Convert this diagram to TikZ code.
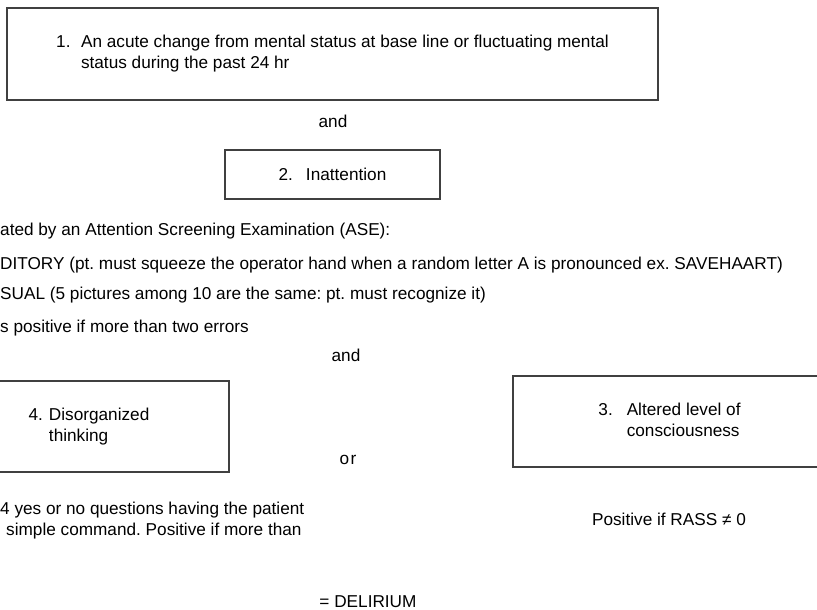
\documentclass[tikz,border=0pt]{standalone}
\usepackage{fontspec}
\setmainfont{Liberation Sans}
\usepackage{tikz}
\usetikzlibrary{positioning}
\frenchspacing

\begin{document}
\begin{tikzpicture}[
    x=1pt, y=-1pt,
    every node/.style={font=\fontsize{17.2}{21}\selectfont, inner sep=0pt},
    box/.style={rectangle, draw=black!75, line width=1.1pt, align=left},
    note/.style={anchor=west, align=left},
    word/.style={anchor=center}
]
    \useasboundingbox (0,0) rectangle (817,610);
    \clip (0,0) rectangle (817,610);

    \node[box, minimum width=651pt, minimum height=92pt] (acute) at (332.5,54) {\begin{tabular}{@{}l@{\hspace{10.5pt}}l@{}}1. & An acute change from mental status at base line or fluctuating mental\\ & status during the past 24 hr\\[1pt]\end{tabular}};
    \node[word] (and1) at (333,121) {and};
    \node[box, minimum width=215pt, minimum height=49pt] (inatt) at (332.5,174.5) {2.\hspace{13pt}Inattention};

    \node[note] (ase) at (0,231) {ated by an Attention Screening Examination (ASE):};
    \node[note] (audit) at (0,265) {DITORY (pt. must squeeze the operator hand when a random letter A is pronounced ex. SAVEHAART)};
    \node[note] (visual) at (0,295) {SUAL (5 pictures among 10 are the same: pt. must recognize it)};
    \node[note] (errors) at (0,328) {s positive if more than two errors};
    \node[word] (and2) at (346,355) {and};

    \node[box, minimum width=280pt, minimum height=91pt] (disorg) at (89,426.5) {\begin{tabular}{@{}l@{\hspace{6pt}}l@{}}4. & Disorganized\\ & thinking\end{tabular}};
    \node[word] (or) at (348,460) {o\kern1.5pt r};
    \node[box, minimum width=313pt, minimum height=91pt] (altered) at (669.5,421.5) {\begin{tabular}{@{}l@{\hspace{14pt}}l@{}}3. & Altered level of\\ & consciousness\end{tabular}};

    \node[note] (yesno) at (0,521) {4 yes or no questions having the patient\\\hspace*{6pt}simple command. Positive if more than};
    \node[word] (rass) at (669,519) {Positive if RASS ≠ 0};
    \node[word] (delirium) at (368,602) {= DELIRIUM};
\end{tikzpicture}
\end{document}
